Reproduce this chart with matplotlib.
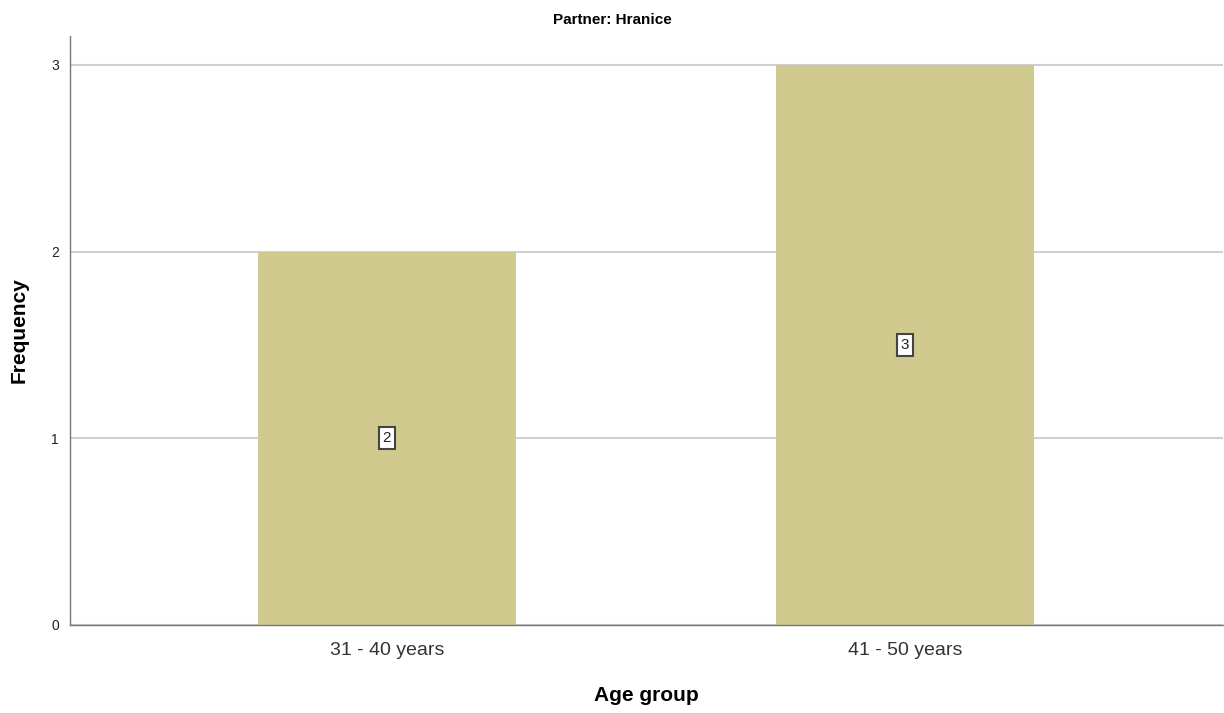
import matplotlib.pyplot as plt
import numpy as np

plt.rcParams['font.family'] = ['Liberation Sans', 'DejaVu Sans']

categories = ['31 - 40 years', '41 - 50 years']
counts = [2, 3]
yticks = [0, 1, 2, 3]

fig = plt.figure(figsize=(12.24, 7.13), dpi=100)
ax = fig.add_axes([70 / 1224, 1 - 625 / 713, 1 - 70 / 1224 - 1 / 1224, (625 - 36) / 713])

x = np.arange(len(categories))
ax.bar(x, counts, width=0.497, color='#d1ca8f', zorder=2)

# value boxes at middle of each bar
for xi, c in zip(x, counts):
    ax.text(xi, c / 2, str(c), ha='center', va='center', fontsize=11, color='#222222',
            bbox=dict(boxstyle='square,pad=0.25', facecolor='white', edgecolor='#444444', linewidth=1.5),
            zorder=3)

ax.set_xlim(-0.611, 1.613)
ax.set_ylim(0, 3.155)
ax.set_xticks(x)
ax.set_xticklabels(categories, fontsize=14, color='#333333')
ax.set_yticks(yticks)
ax.set_yticklabels([str(t) for t in yticks], fontsize=10, color='#222222')
ax.tick_params(axis='both', length=0)
ax.tick_params(axis='x', pad=12)
ax.tick_params(axis='y', pad=8)

ax.grid(axis='y', color='#d0d0d0', linewidth=1.5, zorder=1)
ax.set_axisbelow(True)
for s in ['top', 'right']:
    ax.spines[s].set_visible(False)
for s in ['left', 'bottom']:
    ax.spines[s].set_color('#777777')
    ax.spines[s].set_linewidth(1.0)

ax.set_xlabel('Age group', fontsize=15, fontweight='bold', labelpad=20)
ax.set_ylabel('Frequency', fontsize=15, fontweight='bold', labelpad=16)
fig.text(0.5, 1 - 20 / 713, 'Partner: Hranice', ha='center', va='center', fontsize=11, fontweight='bold')

plt.savefig('out.png', dpi=100)
plt.close()
